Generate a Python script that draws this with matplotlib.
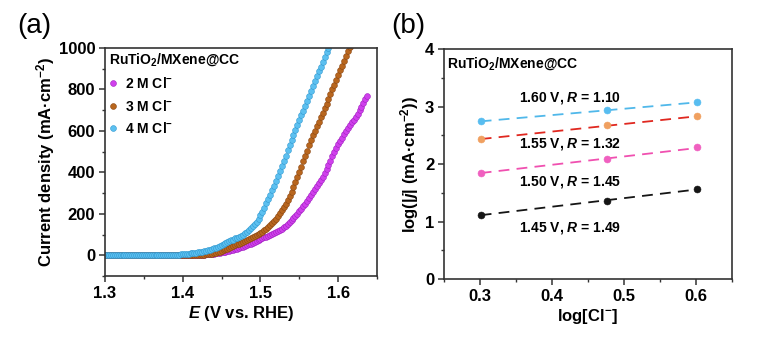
import numpy as np
import matplotlib
matplotlib.use("Agg")
import matplotlib.pyplot as plt
from matplotlib.ticker import MultipleLocator

plt.rcParams["font.family"] = ["Liberation Sans", "DejaVu Sans"]
plt.rcParams["font.weight"] = "bold"
plt.rcParams["axes.labelweight"] = "bold"
plt.rcParams["mathtext.fontset"] = "custom"
plt.rcParams["mathtext.rm"] = "Liberation Sans:bold"
plt.rcParams["mathtext.it"] = "Liberation Sans:italic:bold"
plt.rcParams["mathtext.bf"] = "Liberation Sans:bold"

# ---------- LSV data (2.5 mV steps from 1.300 V) ----------

e_start = 1.300
e_step = 0.0025

j_2M = [0] * 46 + [
    1, 1, 2, 2, 3, 3, 4, 5, 6, 7, 8, 9, 11, 12, 14, 16, 18, 20, 23, 25,
    27, 29, 32, 35, 38, 41, 45, 48, 52, 56, 60, 64, 68, 72, 77, 81, 86, 90, 95, 99,
    103, 108, 112, 117, 122, 128, 135, 142, 150, 160, 170, 180, 190, 201, 213, 225,
    237, 249, 262, 276, 290, 304, 318, 333, 348, 364, 380, 397, 415, 435, 455, 477,
    500, 519, 537, 553, 568, 583, 598, 613, 627, 641, 655, 669, 683, 699, 715, 734,
    755, 770]

j_3M = [0] * 46 + [
    1, 1, 2, 2, 3, 3, 4, 5, 6, 8, 10, 12, 15, 18, 21, 24, 28, 32, 36, 40,
    44, 48, 52, 56, 61, 65, 70, 75, 80, 85, 89, 94, 99, 104, 109, 114, 120, 127, 135, 144,
    154, 165, 177, 190, 203, 217, 232, 248, 265, 284, 305, 328, 352, 377, 402, 428,
    454, 480, 505, 530, 555, 578, 600, 622, 644, 666, 688, 710, 732, 755, 777, 800,
    823, 846, 869, 892, 915, 938, 961, 984, 1007]

j_4M = [0] * 35 + [
    1, 1, 2, 3, 4, 5, 6, 7, 8, 9, 10, 11, 12, 14, 16, 18, 20, 22, 25, 27,
    30, 33, 37, 41, 45, 49, 54, 59, 63, 68, 72, 76, 81, 85, 89, 93, 100, 107, 114, 122,
    131, 140, 150, 162, 176, 192, 210, 230, 251, 272, 293, 314, 336, 359, 383, 407,
    431, 456, 481, 506, 531, 556, 580, 604, 627, 651, 675, 698, 722, 746, 770, 794,
    818, 841, 864, 887, 910, 933, 956, 979, 1002]

lsv_labels = ["2 M Cl$^{-}$", "3 M Cl$^{-}$", "4 M Cl$^{-}$"]
lsv_colors = ["#d040ec", "#b8661e", "#5cc0f0"]
lsv_edges = ["#a020c0", "#8a4510", "#2f98d0"]

# ---------- reaction order data ----------

log_cl = [0.301, 0.477, 0.602]
logj_145 = [1.12, 1.35, 1.57]
logj_150 = [1.85, 2.08, 2.29]
logj_155 = [2.43, 2.67, 2.83]
logj_160 = [2.74, 2.94, 3.07]
potentials = ["1.45", "1.50", "1.55", "1.60"]
orders = [1.49, 1.45, 1.32, 1.10]
label_y = [0.89, 1.69, 2.35, 3.15]
point_colors = ["#151515", "#f060c0", "#f0a060", "#58bdf0"]
line_colors = ["#151515", "#f050b0", "#e02820", "#50b8ea"]

fig = plt.figure(figsize=(7.74, 3.37), dpi=100)
ax1 = fig.add_axes([0.1357, 0.181, 0.3514, 0.6766])
ax2 = fig.add_axes([0.5736, 0.1721, 0.3721, 0.6825])

# ---------- (a) ----------

for j, lab, c, ec in zip([j_2M, j_3M, j_4M], lsv_labels, lsv_colors, lsv_edges):
    e = e_start + e_step * np.arange(len(j))
    ax1.plot(e, j, "o", ms=4.2, mfc=c, mec=ec, mew=0.4, label=lab)

ax1.set_xlim(1.3, 1.65)
ax1.set_ylim(-100, 1000)
ax1.xaxis.set_major_locator(MultipleLocator(0.1))
ax1.xaxis.set_minor_locator(MultipleLocator(0.05))
ax1.yaxis.set_major_locator(MultipleLocator(200))
ax1.yaxis.set_minor_locator(MultipleLocator(100))
ax1.set_xlabel("$E$ (V vs. RHE)", fontsize=12, labelpad=2)
ax1.set_ylabel("Current density (mA·cm$^{-2}$)", fontsize=12, labelpad=1)
ax1.legend(title="RuTiO$_2$/MXene@CC", loc="upper left", frameon=False,
           fontsize=10, title_fontproperties={"weight": "bold", "size": 10},
           alignment="left", handlelength=0.6, handletextpad=0.6,
           labelspacing=0.55, borderpad=0.15, borderaxespad=0.1)

# ---------- (b) ----------

for ys, v, r, ly, pc, lc in zip([logj_145, logj_150, logj_155, logj_160],
                                potentials, orders, label_y, point_colors, line_colors):
    xm = np.mean(log_cl)
    ym = np.mean(ys)
    xf = np.array([log_cl[0], log_cl[-1]])
    ax2.plot(xf, ym + r * (xf - xm), color=lc, lw=1.3, ls=(0, (6, 4)))
    ax2.plot(log_cl, ys, "o", ms=5, mfc=pc, mec=pc, mew=0.4)
    ax2.text(0.354, ly, f"{v} V, $R$ = {r:.2f}", fontsize=10, va="center")

ax2.text(0.009, 0.938, "RuTiO$_2$/MXene@CC", transform=ax2.transAxes,
         fontsize=10, va="center")
ax2.set_xlim(0.25, 0.65)
ax2.set_ylim(0, 4)
ax2.xaxis.set_major_locator(MultipleLocator(0.1))
ax2.xaxis.set_minor_locator(MultipleLocator(0.05))
ax2.yaxis.set_major_locator(MultipleLocator(1))
ax2.yaxis.set_minor_locator(MultipleLocator(0.5))
ax2.set_xlabel("log[Cl$^{-}$]", fontsize=12, labelpad=2)
ax2.set_ylabel("log(|$j$| (mA·cm$^{-2}$))", fontsize=12, labelpad=3)

for ax in (ax1, ax2):
    for s in ax.spines.values():
        s.set_linewidth(1.2)
        s.set_color("#333333")
    ax.tick_params(which="major", direction="out", length=4, width=1.1,
                   labelsize=12, pad=3, color="#333333")
    ax.tick_params(which="minor", direction="out", length=2, width=1.0, color="#333333")

fig.text(0.022, 0.922, "(a)", fontsize=20, fontweight="normal", va="center")
fig.text(0.505, 0.922, "(b)", fontsize=20, fontweight="normal", va="center")

fig.savefig("out.png", dpi=100)
